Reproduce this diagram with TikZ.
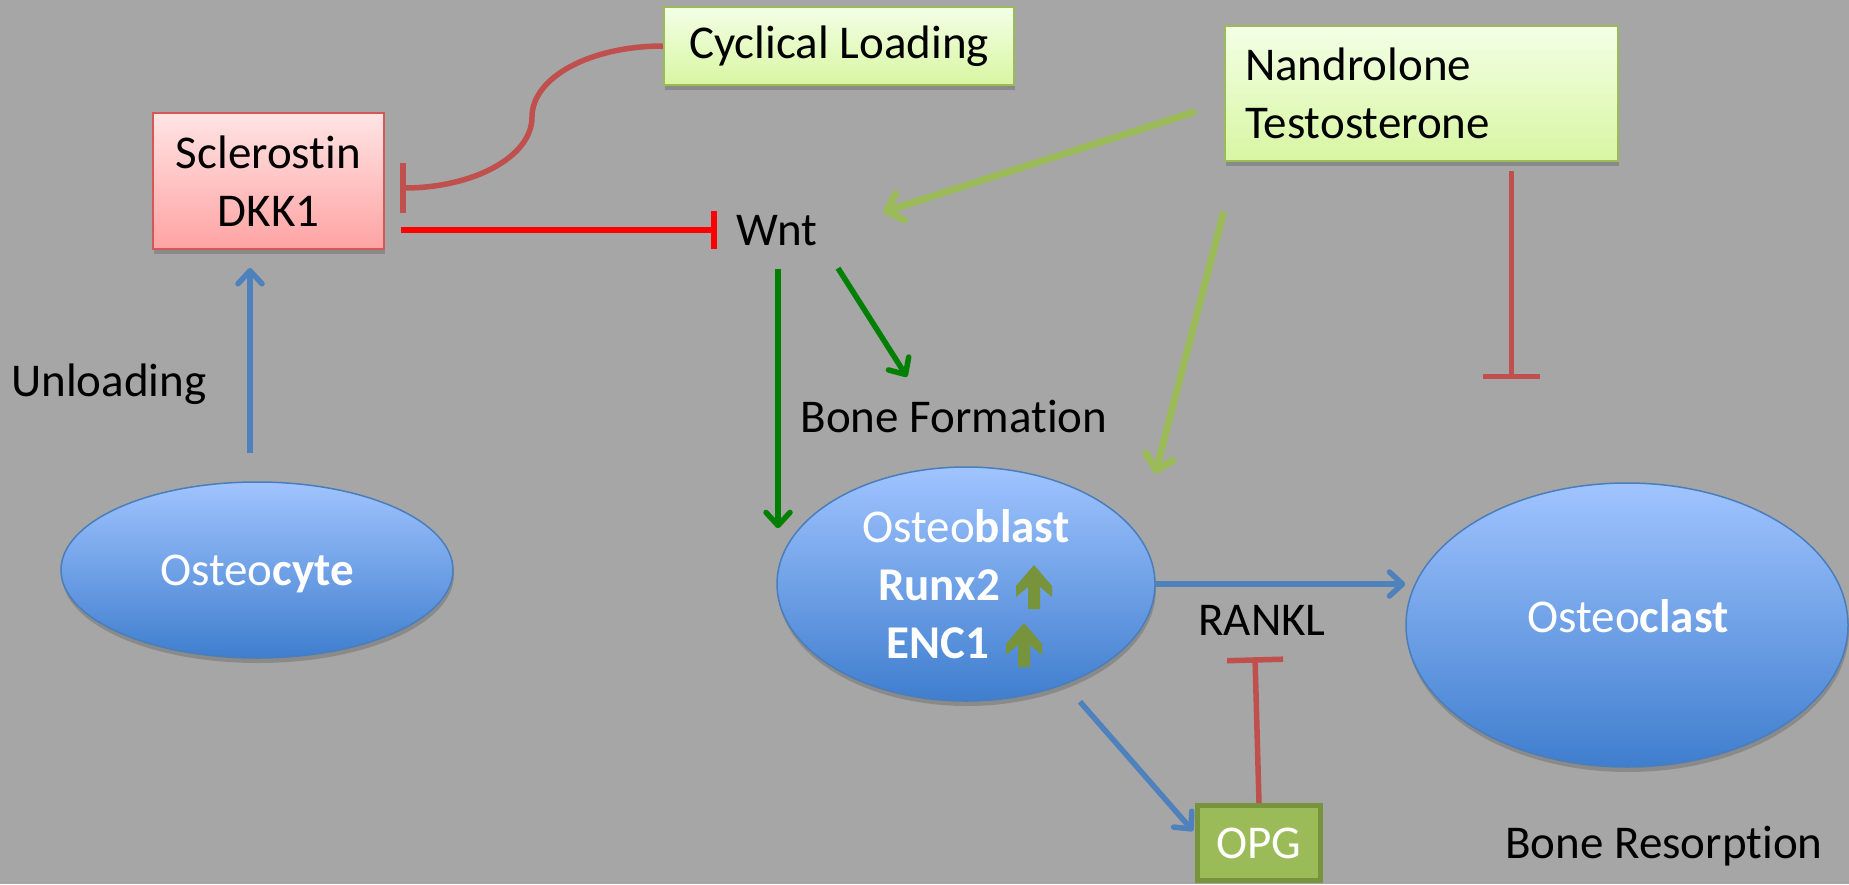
\documentclass[tikz,border=0pt]{standalone}
\usepackage{fontspec}
\setmainfont[Ligatures=NoCommon]{Carlito}
\usetikzlibrary{arrows.meta,shapes.geometric,shadows,calc}
\definecolor{bg}{HTML}{A6A6A6}
\definecolor{pblue}{HTML}{4F81BD}
\definecolor{cellborder}{HTML}{4A7EBB}
\definecolor{celltop}{RGB}{160,196,255}
\definecolor{cellbot}{RGB}{63,126,206}
\definecolor{pred}{HTML}{C0504D}
\definecolor{pgreen}{HTML}{9BBB59}
\definecolor{olive}{HTML}{77933C}
\definecolor{dgreen}{HTML}{008000}
\definecolor{cyctop}{RGB}{243,255,230}
\definecolor{cycbot}{RGB}{216,246,162}
\definecolor{scltop}{RGB}{255,228,228}
\definecolor{sclbot}{RGB}{255,163,163}
\definecolor{sclborder}{RGB}{212,88,88}
\begin{document}
\begin{tikzpicture}[x=1pt,y=-1pt,
  fnt/.style={font=\fontsize{47}{57.5}\selectfont},
  lbl/.style={fnt, inner sep=0pt, text height=30pt, text depth=0pt},
  shad/.style={drop shadow={shadow xshift=1pt, shadow yshift=-5pt, opacity=0.3, fill=black!70}},
  cell/.style={ellipse, draw=cellborder, line width=1.5pt, top color=celltop, bottom color=cellbot, inner sep=0pt, lbl, text=white, shad},
  greenbox/.style={rectangle, draw=pgreen, line width=2.5pt, top color=cyctop, bottom color=cycbot, fnt, shad},
  blu/.style={draw=pblue, line width=5.5pt, -{Straight Barb[length=13pt,width=24pt,round]}},
  dg/.style={draw=dgreen, line width=5.5pt, -{Straight Barb[length=13pt,width=24pt,round]}},
  lg/.style={draw=pgreen, line width=7pt, -{Straight Barb[length=14pt,width=28pt,round]}},
  inh/.style={draw=pred, line width=5.5pt},
  uparrow/.pic={\fill[olive] (0,0) -- (18,21) -- (18,32) -- (6,22) -- (6,44) -- (-6,44) -- (-6,22) -- (-18,32) -- (-18,21) -- cycle;}
]
\useasboundingbox (0,0) rectangle (1849,884);
\fill[bg] (0,0) rectangle (1849,884);

% boxes
\node[greenbox, minimum width=350pt, minimum height=78pt, inner sep=0pt] (cyc) at (839,46) {Cyclical Loading};
\node[greenbox, minimum width=393pt, minimum height=135pt, text width=353pt, inner xsep=20pt, align=left] (nan) at (1421.5,93.5) {Nandrolone\\Testosterone};
\node[rectangle, draw=sclborder, line width=2pt, top color=scltop, bottom color=sclbot, fnt, align=center, minimum width=231pt, minimum height=136pt, inner sep=0pt, shad] (scl) at (268.5,181) {Sclerostin\\DKK1};

% labels
\node[lbl] (wnt) at (777,230) {Wnt};
\node[lbl] (unl) at (109,381) {Unloading};
\node[lbl] (bf) at (954,417) {Bone Formation};
\node[lbl] (rankl) at (1262,620) {RANKL};
\node[lbl] (br) at (1664,843) {Bone Resorption};

% cells
\node[cell, minimum width=392pt, minimum height=176pt] (ocy) at (257,570) {Osteo\textbf{cyte}};
\node[cell, minimum width=378pt, minimum height=234pt] (ob) at (966,584) {};
\node[cell, minimum width=442pt, minimum height=284pt] (ocl) at (1627,625) {};
\node[lbl, text=white] (oclt) at (1628,617) {Osteo\textbf{clast}};
\node[lbl, text=white] (obt) at (966,527) {Osteo\textbf{blast}};
\node[lbl, text=white] (runx) at (939,585) {\textbf{Runx2}};
\node[lbl, text=white] (enc) at (938,643) {\textbf{ENC1}};
\pic at (1034,565) {uparrow};
\pic at (1024,623) {uparrow};

% OPG
\node[rectangle, draw=olive, line width=5pt, fill=pgreen, lbl, text=white, minimum width=123pt, minimum height=75pt] (opg) at (1259,843) {OPG};

% connectors
\draw[blu] ($(ocy.north)+(-7,-28)$) -- ($(scl.south)+(-18.5,18)$);
\draw[draw=red, line width=6pt, -{Bar[width=38pt]}, shorten <=16pt, shorten >=20pt] (scl.east |- wnt) -- (wnt.west);
\coordinate (sclin) at ($(scl.east)+(15,7)$);
\draw[inh, -{Bar[width=50pt]}] (cyc.west) .. controls (591,46) and (532,77) .. (532,117) .. controls (532,157) and (473,188) .. (sclin);
\draw[lg] ($(nan.west)+(-28,18)$) -- ($(wnt.east)+(66,-18)$);
\draw[lg] ($(nan.west)+(0,118)$) -- ($(ob.north east)+(55,-27)$);
\coordinate (nanend) at ($(nan.south)+(90,217)$);
\draw[inh, -{Bar[width=57pt]}] ($(nan.south)+(90,9)$) -- (nanend);
\draw[dg] ($(wnt.south)+(1,24)$) -- ($(wnt.south)+(1,283)$);
\draw[dg] ($(wnt.south)+(61,23)$) -- ($(bf.north)+(-47,-25)$);
\draw[blu] (ob.east) -- (ob.east -| ocl.west);
\draw[blu] ($(ob.south)+(114,0)$) -- ($(opg.west)+(-2,-12)$);
\draw[inh, -{Bar[width=56pt]}] (opg.north) -- ($(rankl.south)+(-7,22)$);
\end{tikzpicture}
\end{document}
